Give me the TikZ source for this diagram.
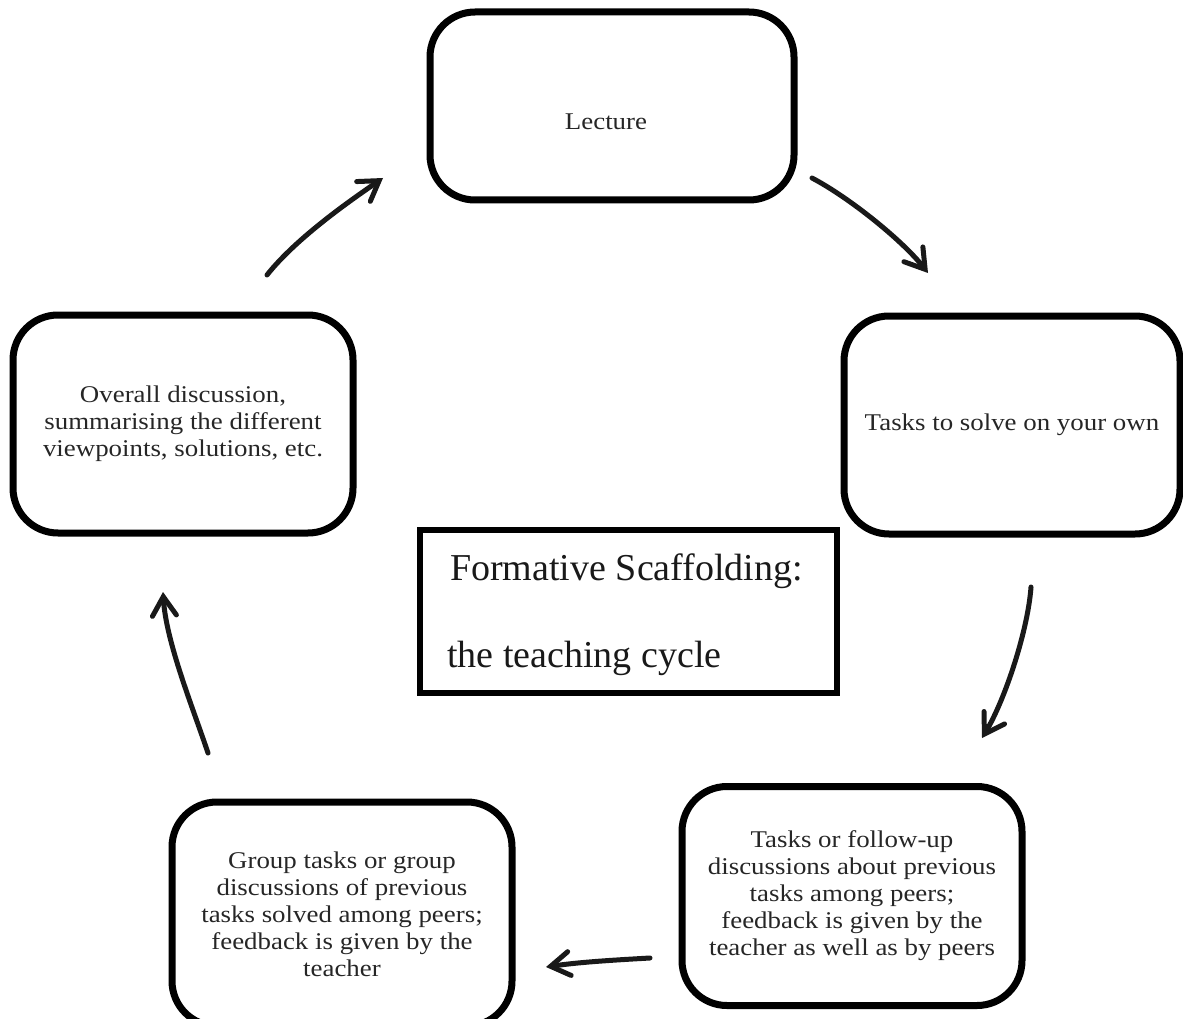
\documentclass[tikz,border=0pt]{standalone}
\usepackage{fontspec}
\setmainfont{Liberation Serif}
\newfontfamily\boxfont{Liberation Serif}[FakeStretch=1.12]
\usetikzlibrary{arrows.meta}
\tikzset{
  stage/.style={draw=black, line width=7pt, rounded corners=45pt, align=center,
    font=\boxfont\fontsize{24}{27}\selectfont, inner sep=0pt, text=black!85},
  stagetext/.style={align=center, font=\boxfont\fontsize{24}{27}\selectfont, inner sep=0pt, text=black!85},
  titlebox/.style={draw=black, line width=6pt, inner sep=0pt},
  titletext/.style={font=\fontsize{38}{40}\selectfont, inner sep=0pt, anchor=base west, text=black!90},
  cyc/.style={line width=5pt, black!90, line cap=round,
    -{Straight Barb[length=19pt,width=24pt,line cap=round]}}
}
\begin{document}
\begin{tikzpicture}[x=1pt,y=-1pt]
\useasboundingbox (0,0) rectangle (1183,1019);
% stages
\node[stage, minimum width=364pt, minimum height=188pt] (lec) at (612,106) {};
\node[stagetext] (lect) at (606,122) {Lecture};
\node[stage, minimum width=336pt, minimum height=218pt] (own) at (1012,425) {Tasks to solve on your own};
\node[stage, minimum width=340pt, minimum height=219pt] (peer) at (852,896)
  {Tasks or follow-up\\discussions about previous\\tasks among peers;\\feedback is given by the\\teacher as well as by peers};
\node[stage, minimum width=340pt, minimum height=224pt] (grp) at (342,914)
  {Group tasks or group\\discussions of previous\\tasks solved among peers;\\feedback is given by the\\teacher};
\node[stage, minimum width=340pt, minimum height=218pt] (ovr) at (183,424)
  {Overall discussion,\\summarising the different\\viewpoints, solutions, etc.};
% title
\node[titlebox, minimum width=417pt, minimum height=163pt] (title) at (628.5,611.5) {};
\node[titletext] (t1) at (450,580) {Formative Scaffolding:};
\node[titletext] (t2) at (447,667) {the teaching cycle};
% arrow end points
\coordinate (a1s) at (267,275); \coordinate (a1e) at (383,178);
\coordinate (a2s) at (812,178); \coordinate (a2e) at (928,273);
\coordinate (a3s) at (1031,587); \coordinate (a3e) at (982,738);
\coordinate (a4s) at (650,958); \coordinate (a4e) at (546,967);
\coordinate (a5s) at (208,753); \coordinate (a5e) at (163,592);
\draw[cyc] (a1s) .. controls (297,237) and (354,198) .. (a1e);
\draw[cyc] (a2s) .. controls (850,198) and (903,241) .. (a2e);
\draw[cyc] (a3s) .. controls (1028,630) and (1005,700) .. (a3e);
\draw[cyc] (a4s) .. controls (615,960) and (580,962) .. (a4e);
\draw[cyc] (a5s) .. controls (193,708) and (166,642) .. (a5e);
\end{tikzpicture}
\end{document}
